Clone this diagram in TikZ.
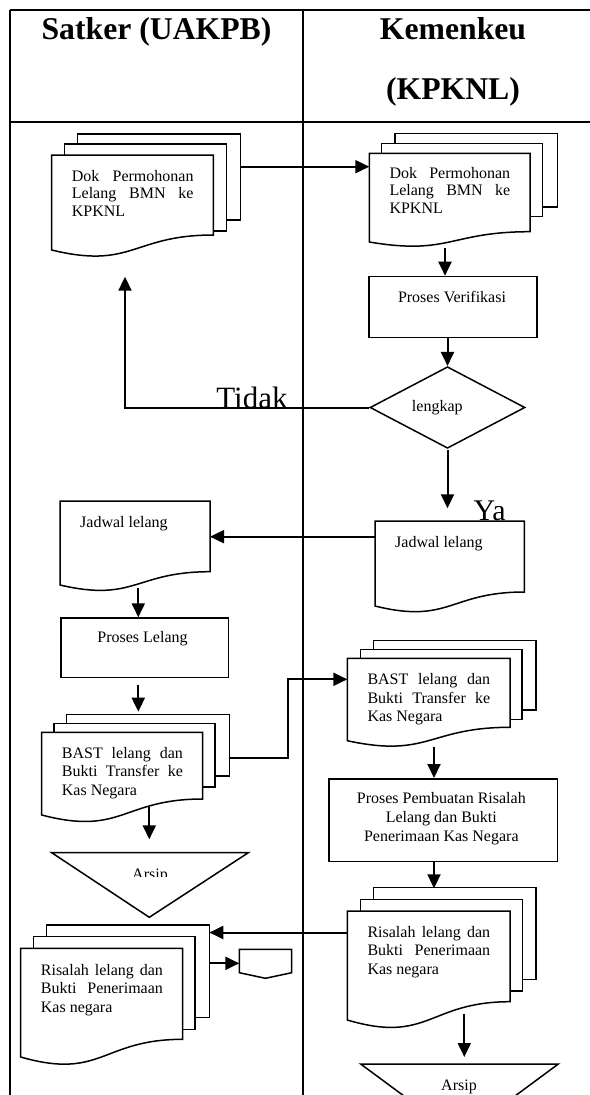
\documentclass[tikz,border=0pt]{standalone}
\usepackage{fontspec}
\setmainfont{Liberation Serif}
\usetikzlibrary{arrows.meta,shapes.geometric}
\hyphenpenalty=10000
\exhyphenpenalty=10000
\tolerance=9999
\emergencystretch=30pt
\newcommand\frontdoc[5]{\draw[shp] (#1,#2) -- (#3,#2) -- (#3,#5) .. controls ({(#1+#3)/2},#5) and ({(#1+#3)/2},{#5+2.316*(#4-#5)}) .. (#1,#4) -- cycle;}
\newcommand\backsheet[4]{\draw[shp] (#1,#2) rectangle (#3,#4);}
\tikzset{
  tbl/.style={line width=2.2pt},
  shp/.style={draw, line width=1.5pt, fill=white},
  conn/.style={line width=2pt},
  arr/.style={conn, -{Triangle[length=14pt,width=13pt]}},
  txt/.style={font=\fontsize{16}{18.5}\selectfont, inner sep=0pt, align=justify, anchor=north west},
  dtxt/.style={font=\fontsize{16}{17.5}\selectfont, inner sep=0pt, align=justify, anchor=north west},
  ptxt/.style={font=\fontsize{16}{19}\selectfont, inner sep=0pt, align=center},
  hdr/.style={font=\fontsize{31.7}{36}\bfseries\selectfont, inner sep=0pt, anchor=base},
  big/.style={font=\fontsize{31}{36}\selectfont, inner sep=0pt, anchor=base},
  boxn/.style={draw, line width=1.5pt, fill=white, inner sep=0pt, anchor=north west}
}
\begin{document}
\begin{tikzpicture}[x=1pt,y=-1pt]
\useasboundingbox (0,0) rectangle (589,1095);
% table
\draw[tbl] (10,10) -- (592,10);
\draw[tbl] (10,122) -- (592,122);
\draw[tbl] (10,10) -- (10,1098);
\draw[tbl] (303,10) -- (303,1098);
\node[hdr] (h1) at (156.5,39.5) {Satker (UAKPB)};
\node[hdr] (h2) at (453,39.5) {Kemenkeu};
\node[hdr] (h3) at (453,99.5) {(KPKNL)};

% Dok left
\backsheet{77.7}{134}{240.7}{220}
\backsheet{64.3}{144}{226.7}{231}
\frontdoc{51.7}{155}{213.3}{250}{235}
\node[dtxt, text width=121.6pt] (dokA) at (71.7,170) {Dok Permohonan Lelang BMN ke KPKNL};
% Dok right
\backsheet{395}{133.3}{557.3}{207}
\backsheet{381.7}{143.3}{542.7}{216.7}
\frontdoc{369.3}{153.3}{530}{242}{231.7}
\node[dtxt, text width=120.7pt] (dokB) at (389.3,167) {Dok Permohonan Lelang BMN ke KPKNL};

% Proses Verifikasi
\node[boxn, minimum width=167.7pt, minimum height=61pt] (pv) at (368.3,275.7) {};
\node[font=\fontsize{16}{19}\selectfont, inner sep=0pt, anchor=base] (pvt) at (452,302) {Proses Verifikasi};

% diamond
\node[diamond, draw, line width=1.5pt, minimum width=155pt, minimum height=81.6pt, inner sep=0pt] (lk) at (447.5,407.5) {};
\node[font=\fontsize{16}{19}\selectfont, inner sep=0pt] (lkt) at (437.3,407.7) {lengkap};

% Jadwal right
\frontdoc{375}{521}{524.3}{606}{592}
\node[txt, text width=110pt] (jadB) at (395,536) {Jadwal lelang};
% Jadwal left
\frontdoc{60}{501}{210}{585}{571.7}
\node[txt, text width=110pt] (jadA) at (80,516) {Jadwal lelang};

% Proses Lelang
\node[boxn, minimum width=167.7pt, minimum height=59.4pt] (pl) at (60,617.3) {};
\node[font=\fontsize{16}{19}\selectfont, inner sep=0pt, anchor=base] (plt) at (142.5,642) {Proses Lelang};

% BAST left
\backsheet{66.7}{714.3}{229.3}{776}
\backsheet{54}{723.3}{215}{787}
\frontdoc{41.7}{732.3}{202.7}{815}{799}
\node[txt, text width=121pt] (bastA) at (61.7,747) {BAST lelang dan Bukti Transfer ke Kas Negara};

% BAST right
\backsheet{373.3}{640.7}{536}{710}
\backsheet{360.7}{649.3}{522}{719.3}
\frontdoc{347.3}{658.3}{510}{740.7}{727.3}
\node[txt, text width=122.7pt] (bastB) at (367.3,673.3) {BAST lelang dan Bukti Transfer ke Kas Negara};

% Proses Pembuatan
\node[boxn, minimum width=228.7pt, minimum height=82.7pt] (ppr) at (328,778) {};
\node[ptxt, anchor=north] (pprt) at (441.3,792) {Proses Pembuatan Risalah\\Lelang dan Bukti\\Penerimaan Kas Negara};

% Risalah right
\backsheet{373.3}{887.3}{536}{979.3}
\backsheet{360.7}{899.3}{522.3}{991}
\frontdoc{347.3}{911}{510}{1020}{1001.7}
\node[txt, text width=122.7pt] (risB) at (367.3,926) {Risalah lelang dan Bukti Penerimaan Kas negara};

% Risalah left
\backsheet{46.7}{925}{209.3}{1017.3}
\backsheet{33.3}{936.7}{195}{1029.3}
\frontdoc{20.7}{948.3}{182.7}{1057}{1039.3}
\node[txt, text width=122pt] (risA) at (40.7,964) {Risalah lelang dan Bukti Penerimaan Kas negara};

% off-page connector
\draw[shp] (239.3,949.3) -- (291.7,949.3) -- (291.7,972.7) -- (265.5,978.3) -- (239.3,972.7) -- cycle;
\coordinate (opc) at (239.3,963.3);

% Arsip left
\draw[line width=1.5pt] (51.7,852.7) -- (248.3,852.7) -- (149.3,917.3) -- cycle;
\coordinate (arsAtop) at (149.3,839.3);
\begin{scope}
\clip (100,855) rectangle (200,876);
\node[font=\fontsize{16}{19}\selectfont, inner sep=0pt, anchor=base] (arsA) at (150,879.5) {Arsip};
\end{scope}

% Arsip right
\draw[line width=1.5pt] (360.7,1064) -- (558.3,1064) -- (459.5,1137) -- cycle;
\node[font=\fontsize{16}{19}\selectfont, inner sep=0pt, anchor=base] (arsB) at (459,1090) {Arsip};

% labels
\node[big] (tidak) at (252,408.5) {Tidak};
\node[big, font=\fontsize{30}{34}\selectfont] (ya) at (489.7,520) {Ya};

% connector coordinates
\coordinate (dokAr) at (240.7,166.7);
\coordinate (dokBl) at (369.3,166.7);
\coordinate (dokBb) at (445,248);
\coordinate (pvTop) at (445,275.7);
\coordinate (lkB) at (447.5,450);
\coordinate (jadBt) at (447.5,508.3);
\coordinate (jadBl) at (375,536.7);
\coordinate (jadAr) at (210,536.7);
\coordinate (jadAb) at (138.3,588);
\coordinate (plT) at (138.3,617.3);
\coordinate (plB) at (138.3,685);
\coordinate (bastAt) at (138.3,711.7);
\coordinate (bastAr) at (229.3,758.3);
\coordinate (bastBl) at (347.3,679.3);
\coordinate (bastBb) at (434,746.7);
\coordinate (pprT) at (434,778);
\coordinate (pprB) at (434,860.7);
\coordinate (risBt) at (434,888.3);
\coordinate (risBl) at (347.3,932.5);
\coordinate (risAr) at (209.3,932.5);
\coordinate (risAo) at (209.3,963.3);
\coordinate (risBb) at (464.3,1014);
\coordinate (arsBtop) at (464.3,1057);
\coordinate (bastAb) at (149.3,806.7);
\coordinate (dokAb) at (125,276.7);

% connectors
\draw[arr] (dokAr) -- (dokBl);
\draw[arr] (dokBb) -- (pvTop);
\draw[arr] (pv.south -| lk.north) -- (lk.north);
\draw[arr] (lk.west) -- (dokAb |- lk.west) -- (dokAb);
\draw[arr] (lkB) -- (jadBt);
\draw[arr] (jadBl) -- (jadAr);
\draw[arr] (jadAb) -- (plT);
\draw[arr] (plB) -- (bastAt);
\draw[arr] (bastAr) -- (288.3,758.3) -- (288.3,679.3) -- (bastBl);
\draw[arr] (bastBb) -- (pprT);
\draw[arr] (bastAb) -- (arsAtop);
\draw[arr] (pprB) -- (risBt);
\draw[arr] (risBl) -- (risAr);
\draw[arr] (risAo) -- (opc);
\draw[arr] (risBb) -- (arsBtop);
\end{tikzpicture}
\end{document}
